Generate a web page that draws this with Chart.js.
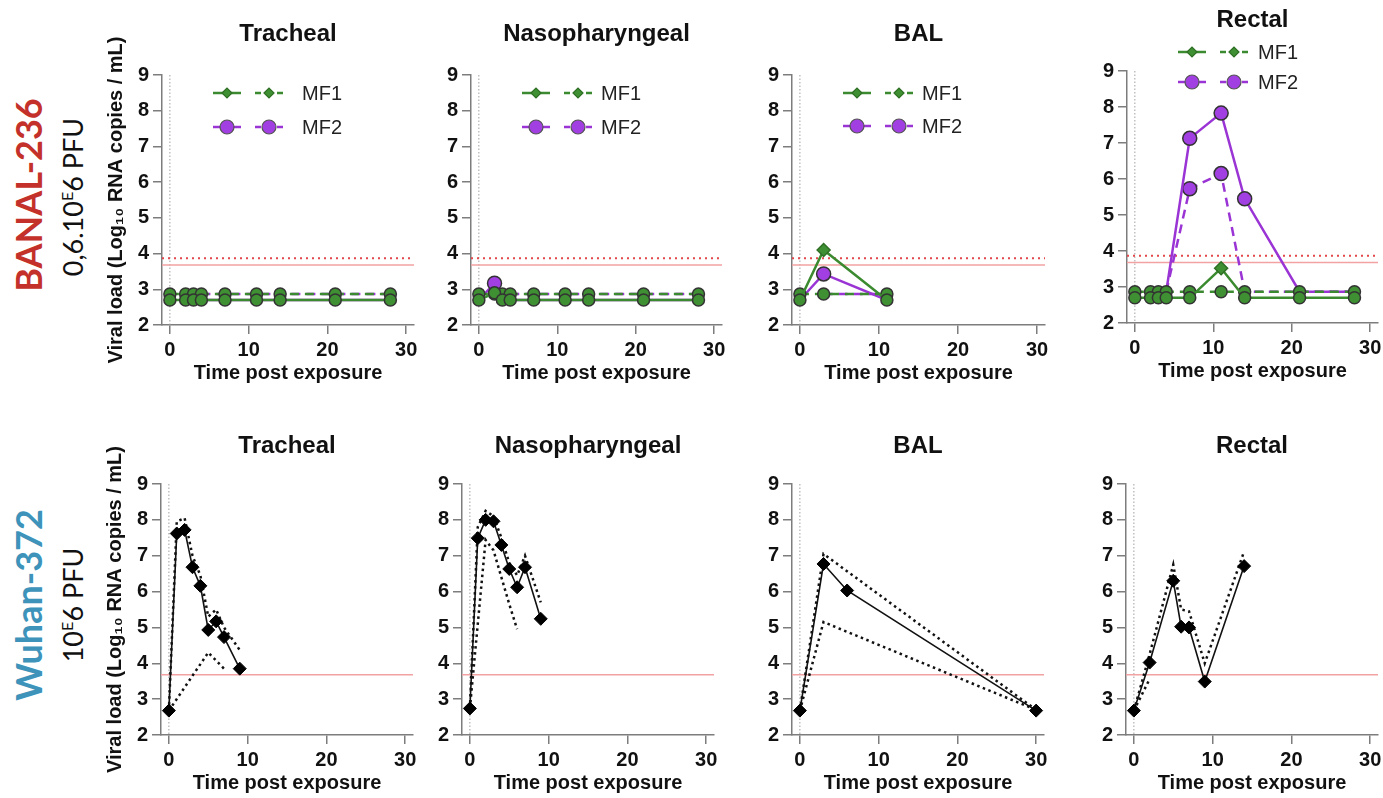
<!DOCTYPE html>
<html>
<head>
<meta charset="utf-8">
<script src="https://cdn.jsdelivr.net/npm/chart.js@4.4.1/dist/chart.umd.min.js"></script>
<style>
  html, body { margin: 0; padding: 0; background: #fff; }
  body { position: relative; width: 1383px; height: 798px; overflow: hidden; }
  canvas { position: absolute; }
  .ttl { position: absolute; transform: translate(-50%, -50%); font: bold 24px "Liberation Sans", Arial, sans-serif; color: #111; white-space: nowrap; line-height: 1; }
  .row { position: absolute; transform: translate(-50%, -50%) rotate(-90deg); white-space: nowrap; line-height: 1; }
  .row sup { font-size: 60%; }
</style>
</head>
<body>
<div class="row" style="left:28px;top:195px;font:bold 36px Lato,sans-serif;color:#c3312a">BANAL-236</div>
<div class="row" style="left:72px;top:197px;font:27px Lato,sans-serif;color:#111">0,6.10<sup>E</sup>6 PFU</div>
<div class="row" style="left:28px;top:605px;font:bold 36px Lato,sans-serif;color:#3d93ba">Wuhan-372</div>
<div class="row" style="left:72px;top:605px;font:27px Lato,sans-serif;color:#111">10<sup>E</sup>6 PFU</div>

<script>
// axes
const xTicks = [0, 10, 20, 30];
const yTicks = [2, 3, 4, 5, 6, 7, 8, 9];
const LOD = 3.68;
const LOD_DOTTED = 3.87;

// BANAL-236 (MF1 = green, MF2 = purple ; solid / dashed)
const trachDays = [0, 2, 3, 4, 7, 11, 14, 21, 28];
const trachMF1Solid = [2.7, 2.7, 2.7, 2.7, 2.7, 2.7, 2.7, 2.7, 2.7];
const trachMF1Dash = [2.87, 2.87, 2.87, 2.87, 2.87, 2.87, 2.87, 2.87, 2.87];
const trachMF2Solid = [2.7, 2.7, 2.7, 2.7, 2.7, 2.7, 2.7, 2.7, 2.7];
const trachMF2Dash = [2.87, 2.87, 2.87, 2.87, 2.87, 2.87, 2.87, 2.87, 2.87];

const nasoDays = [0, 2, 3, 4, 7, 11, 14, 21, 28];
const nasoMF1Solid = [2.7, 2.9, 2.7, 2.7, 2.7, 2.7, 2.7, 2.7, 2.7];
const nasoMF1Dash = [2.87, 2.87, 2.87, 2.87, 2.87, 2.87, 2.87, 2.87, 2.87];
const nasoMF2Solid = [2.7, 3.17, 2.7, 2.7, 2.7, 2.7, 2.7, 2.7, 2.7];
const nasoMF2Dash = [2.87, 2.87, 2.87, 2.87, 2.87, 2.87, 2.87, 2.87, 2.87];

const balDays = [0, 3, 11];
const balMF1Solid = [2.7, 4.1, 2.7];
const balMF1Dash = [2.87, 2.87, 2.87];
const balMF2Solid = [2.7, 3.43, 2.7];
const balMF2Dash = [2.87, 2.87, 2.87];

const rectDays = [0, 2, 3, 4, 7, 11, 14, 21, 28];
const rectMF1Solid = [2.7, 2.7, 2.7, 2.7, 2.7, 3.52, 2.7, 2.7, 2.7];
const rectMF1Dash = [2.87, 2.87, 2.87, 2.87, 2.87, 2.87, 2.87, 2.87, 2.87];
const rectMF2Solid = [2.87, 2.87, 2.87, 2.87, 7.13, 7.83, 5.45, 2.87, 2.87];
const rectMF2Dash = [2.87, 2.87, 2.87, 2.87, 5.73, 6.15, 2.87, 2.87, 2.87];

// Wuhan-372 (solid = diamonds, dotted = single animals)
const wTrachDays = [0, 1, 2, 3, 4, 5, 6, 7, 9];
const wTrachMain = [2.68, 7.62, 7.72, 6.68, 6.16, 4.93, 5.17, 4.73, 3.85];
const wTrachUp = [2.68, 7.95, 8.05, 7.0, 6.45, 5.3, 5.5, 5.0, 4.37];
const wTrachLowDays = [0, 5, 7];
const wTrachLow = [2.68, 4.3, 3.85];

const wNasoDays = [0, 1, 2, 3, 4, 5, 6, 7, 9];
const wNasoMain = [2.74, 7.49, 8.0, 7.96, 7.3, 6.63, 6.12, 6.68, 5.24];
const wNasoUp = [2.74, 7.8, 8.25, 8.1, 7.5, 6.8, 6.45, 7.0, 5.7];
const wNasoLowDays = [0, 2, 3, 4, 5, 6];
const wNasoLow = [2.74, 7.44, 7.15, 6.4, 5.65, 4.95];

const wBalDays = [0, 3, 6, 30];
const wBalMain = [2.68, 6.77, 6.03, 2.68];
const wBalSideDays = [0, 3, 30];
const wBalUp = [2.68, 7.05, 2.7];
const wBalLow = [2.68, 5.15, 2.7];

const wRectDays = [0, 2, 5, 6, 7, 9, 14];
const wRectMain = [2.68, 4.02, 6.3, 5.02, 5.0, 3.49, 6.71];
const wRectUp = [2.68, 4.25, 6.75, 5.5, 5.45, 4.0, 7.12];
const wRectLowDays = [0, 2];
const wRectLow = [2.68, 3.56];

const GREEN = '#3b8a2f';
const GREEN_FILL = '#3f8f33';
const PURPLE = '#9a34d4';
const PURPLE_FILL = '#a23fe2';
const AXIS = '#7d7d7d';
const FONT = '"Liberation Sans", Arial, sans-serif';

Chart.defaults.font.family = FONT;

function pts(days, vals) {
  return days.map((d, i) => ({x: d, y: vals[i]}));
}
function atLod(c) {
  return c.raw && c.raw.y <= 2.95;
}

// MF1 / MF2 lines (top row)
function mfSet(days, vals, group, dashed) {
  const mf1 = group === 1;
  return {
    data: pts(days, vals),
    borderColor: mf1 ? GREEN : PURPLE,
    borderWidth: 2.5,
    borderDash: dashed ? [9, 6] : [],
    pointStyle: c => (atLod(c) || !mf1) ? 'circle' : 'rectRot',
    pointRadius: c => atLod(c) ? (mf1 ? 6 : 0) : (mf1 ? 6.5 : 7),
    pointBackgroundColor: c => (mf1 || atLod(c)) ? GREEN_FILL : PURPLE_FILL,
    pointBorderColor: c => (mf1 && !atLod(c)) ? '#2f6f25' : '#333',
    pointBorderWidth: 1.5,
    segment: mf1 ? {} : {
      borderColor: s => (s.p0.parsed.y <= 2.95 && s.p1.parsed.y <= 2.95 && s.p1.parsed.x <= 4) ? 'rgba(0,0,0,0)' : undefined
    },
    order: mf1 ? 0 : 1
  };
}
function mfSets(days, a, b, c, d) {
  return [mfSet(days, a, 1, false), mfSet(days, b, 1, true), mfSet(days, c, 2, false), mfSet(days, d, 2, true)];
}

// black lines (bottom row)
function mainSet(days, vals) {
  return { data: pts(days, vals), borderColor: '#111', borderWidth: 1.6, pointStyle: 'rectRot',
    pointRadius: 6.5, pointBackgroundColor: '#000', pointBorderColor: '#000', pointBorderWidth: 1, order: 0 };
}
function dotSet(days, vals) {
  return { data: pts(days, vals), borderColor: '#111', borderWidth: 2.5, borderDash: [2.5, 3.5],
    pointRadius: 0, order: 1 };
}

// reference lines
const refLines = {
  id: 'refLines',
  beforeDatasetsDraw(chart, args, o) {
    const {ctx, chartArea: a, scales: {x, y}} = chart;
    ctx.save();
    const x0 = x.getPixelForValue(0);
    ctx.strokeStyle = '#a0a0a0';
    ctx.lineWidth = 1;
    ctx.setLineDash([1.5, 2]);
    ctx.beginPath();
    ctx.moveTo(x0, y.getPixelForValue(9));
    ctx.lineTo(x0, y.getPixelForValue(2));
    ctx.stroke();

    ctx.setLineDash([]);
    ctx.strokeStyle = '#f2a2a2';
    ctx.lineWidth = 1.6;
    const yl = y.getPixelForValue(LOD);
    ctx.beginPath();
    ctx.moveTo(a.left, yl);
    ctx.lineTo(a.right, yl);
    ctx.stroke();

    if (o.dotted) {
      const yd = y.getPixelForValue(LOD_DOTTED);
      ctx.strokeStyle = '#e2474c';
      ctx.lineWidth = 2;
      ctx.setLineDash([2, 4]);
      ctx.beginPath();
      ctx.moveTo(a.left, yd);
      ctx.lineTo(a.right, yd);
      ctx.stroke();
    }
    ctx.restore();
  }
};

function marker(ctx, style, x, y, r, fill, stroke) {
  ctx.save();
  ctx.setLineDash([]);
  ctx.beginPath();
  if (style === 'diamond') {
    ctx.moveTo(x - r, y); ctx.lineTo(x, y - r); ctx.lineTo(x + r, y); ctx.lineTo(x, y + r); ctx.closePath();
  } else {
    ctx.arc(x, y, r, 0, Math.PI * 2);
  }
  ctx.fillStyle = fill;
  ctx.fill();
  ctx.lineWidth = 1.2;
  ctx.strokeStyle = stroke;
  ctx.stroke();
  ctx.restore();
}

// legend with solid + dashed sample
const mfLegend = {
  id: 'mfLegend',
  afterDatasetsDraw(chart, args, o) {
    if (!o.show) return;
    const {ctx, chartArea: a} = chart;
    const rows = [
      {label: 'MF1', col: GREEN, style: 'diamond', r: 5, fill: GREEN_FILL, stroke: '#2f6f25', dy: o.dy1},
      {label: 'MF2', col: PURPLE, style: 'circle', r: 7, fill: PURPLE_FILL, stroke: '#555', dy: o.dy2}
    ];
    ctx.save();
    rows.forEach(r => {
      const y = a.top + r.dy;
      const x0 = a.left;
      ctx.strokeStyle = r.col;
      ctx.lineWidth = 2.5;
      ctx.setLineDash([]);
      ctx.beginPath(); ctx.moveTo(x0 + 51, y); ctx.lineTo(x0 + 79, y); ctx.stroke();
      marker(ctx, r.style, x0 + 65, y, r.r, r.fill, r.stroke);
      ctx.strokeStyle = r.col;
      ctx.lineWidth = 2.5;
      ctx.setLineDash([6, 5]);
      ctx.beginPath(); ctx.moveTo(x0 + 93, y); ctx.lineTo(x0 + 121, y); ctx.stroke();
      marker(ctx, r.style, x0 + 107, y, r.r, r.fill, r.stroke);
      ctx.setLineDash([]);
      ctx.fillStyle = '#222';
      ctx.font = '20px ' + FONT;
      ctx.textBaseline = 'middle';
      ctx.textAlign = 'left';
      ctx.fillText(r.label, x0 + o.tx, y + 1);
    });
    ctx.restore();
  }
};

const Y_W = 70, PAD_T = 40, PAD_R = 8, X_H = 65;

function panel(p) {
  const cv = document.createElement('canvas');
  const w = Y_W + (p.R - p.L) + PAD_R;
  const h = PAD_T + (p.B - p.T) + X_H;
  cv.width = w; cv.height = h;
  cv.style.left = (p.L - Y_W) + 'px';
  cv.style.top = (p.T - PAD_T) + 'px';
  cv.style.width = w + 'px';
  cv.style.height = h + 'px';
  document.body.appendChild(cv);

  const t = document.createElement('div');
  t.className = 'ttl';
  t.textContent = p.title;
  t.style.left = ((p.L + p.R) / 2) + 'px';
  t.style.top = p.ty + 'px';
  document.body.appendChild(t);

  new Chart(cv, {
    type: 'line',
    data: { datasets: p.sets },
    plugins: [refLines, mfLegend],
    options: {
      responsive: false,
      animation: false,
      events: [],
      layout: { padding: { top: PAD_T, right: PAD_R, left: 0, bottom: 0 } },
      plugins: {
        legend: { display: false },
        tooltip: { enabled: false },
        refLines: { dotted: p.dotted },
        mfLegend: p.legend || { show: false }
      },
      scales: {
        x: {
          type: 'linear', min: -1, max: 31,
          afterBuildTicks: s => { s.ticks = xTicks.map(v => ({value: v})); },
          afterFit: s => { s.height = X_H; },
          grid: { drawOnChartArea: false, drawTicks: true, tickLength: 9, color: AXIS, lineWidth: 1.5 },
          border: { color: AXIS, width: 1.5 },
          ticks: { color: '#111', padding: 4, maxRotation: 0, font: { size: 20, weight: 'bold' } },
          title: { display: true, text: 'Time post exposure', color: '#111', padding: { top: 0, bottom: 5 },
                   font: { size: 20, weight: 'bold' } }
        },
        y: {
          type: 'linear', min: 2, max: 9,
          afterBuildTicks: s => { s.ticks = yTicks.map(v => ({value: v})); },
          afterFit: s => { s.width = Y_W; },
          grid: { drawOnChartArea: false, drawTicks: true, tickLength: 9, color: AXIS, lineWidth: 1.5 },
          border: { color: AXIS, width: 1.5 },
          ticks: { color: '#111', padding: 4, font: { size: 20, weight: 'bold' } },
          title: { display: !!p.ytitle, text: 'Viral load (Log\u2081\u2080 RNA copies / mL)', color: '#111',
                   padding: { top: 12, bottom: 0 }, font: { size: 20, weight: 'bold' } }
        }
      }
    }
  });
}

// top row
panel({ L: 162, R: 414, T: 75, B: 325, title: 'Tracheal', ty: 33, ytitle: true, dotted: true,
  legend: { show: true, dy1: 18, dy2: 52, tx: 140 },
  sets: mfSets(trachDays, trachMF1Solid, trachMF1Dash, trachMF2Solid, trachMF2Dash) });
panel({ L: 471, R: 722, T: 75, B: 325, title: 'Nasopharyngeal', ty: 33, dotted: true,
  legend: { show: true, dy1: 18, dy2: 52, tx: 130 },
  sets: mfSets(nasoDays, nasoMF1Solid, nasoMF1Dash, nasoMF2Solid, nasoMF2Dash) });
panel({ L: 792, R: 1045, T: 75, B: 325, title: 'BAL', ty: 33, dotted: true,
  legend: { show: true, dy1: 18, dy2: 51, tx: 130 },
  sets: mfSets(balDays, balMF1Solid, balMF1Dash, balMF2Solid, balMF2Dash) });
panel({ L: 1127, R: 1378, T: 71, B: 323, title: 'Rectal', ty: 19, dotted: true,
  legend: { show: true, dy1: -19, dy2: 11, tx: 131 },
  sets: mfSets(rectDays, rectMF1Solid, rectMF1Dash, rectMF2Solid, rectMF2Dash) });

// bottom row
panel({ L: 161, R: 413, T: 484, B: 735, title: 'Tracheal', ty: 445, ytitle: true,
  sets: [mainSet(wTrachDays, wTrachMain), dotSet(wTrachDays, wTrachUp), dotSet(wTrachLowDays, wTrachLow)] });
panel({ L: 462, R: 714, T: 484, B: 735, title: 'Nasopharyngeal', ty: 445,
  sets: [mainSet(wNasoDays, wNasoMain), dotSet(wNasoDays, wNasoUp), dotSet(wNasoLowDays, wNasoLow)] });
panel({ L: 792, R: 1044, T: 484, B: 735, title: 'BAL', ty: 445,
  sets: [mainSet(wBalDays, wBalMain), dotSet(wBalSideDays, wBalUp), dotSet(wBalSideDays, wBalLow)] });
panel({ L: 1126, R: 1378, T: 484, B: 735, title: 'Rectal', ty: 445,
  sets: [mainSet(wRectDays, wRectMain), dotSet(wRectDays, wRectUp), dotSet(wRectLowDays, wRectLow)] });
</script>
</body>
</html>
